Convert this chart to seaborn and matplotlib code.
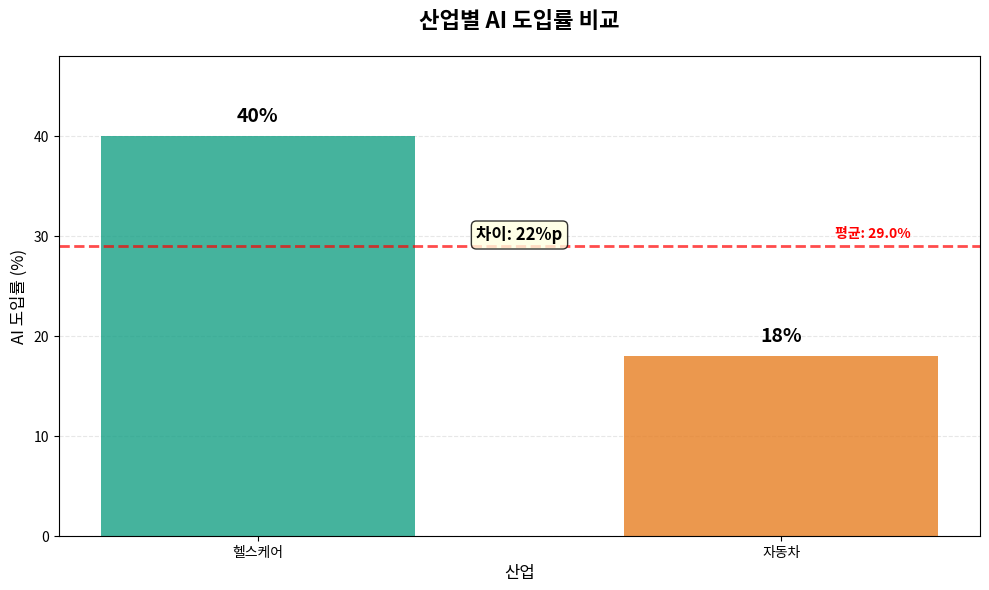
import matplotlib
matplotlib.use("Agg")
import matplotlib.pyplot as plt
import seaborn as sns
import pandas as pd

industries = ["헬스케어", "자동차"]
adoption = [40, 18]
colors = ["#16a085", "#e67e22"]

plt.rcParams['font.family'] = ['Noto Sans CJK KR', 'DejaVu Sans']
plt.rcParams['axes.unicode_minus'] = False

df = pd.DataFrame({"산업": industries, "도입률": adoption})

fig, ax = plt.subplots(figsize=(9.89, 5.90), dpi=100)
sns.barplot(data=df, x="산업", y="도입률", hue="산업", palette=colors,
            width=0.6, alpha=0.8, legend=False, ax=ax, saturation=1,
            edgecolor="none", linewidth=0)

ax.set_xlim(-0.38, 1.38)
ax.set_ylim(0, max(adoption) * 1.2)

for i, v in enumerate(adoption):
    ax.text(i, v + 1, f"{v}%", ha="center", va="bottom", fontsize=14,
            fontweight="bold", color="black")

avg = sum(adoption) / len(adoption)
ax.axhline(avg, color="red", linestyle="--", linewidth=2, alpha=0.7)
ax.text(1.175, avg + 0.5, f"평균: {avg:.1f}%", ha="center", va="bottom",
        color="red", fontsize=10, fontweight="bold")

diff = adoption[0] - adoption[1]
ax.text(0.5, avg + 1.1, f"차이: {diff}%p", ha="center", va="center", fontsize=12,
        fontweight="bold", color="black",
        bbox=dict(boxstyle="round,pad=0.3", facecolor="lightyellow", edgecolor="black", alpha=0.8))

ax.yaxis.grid(True, linestyle="--", alpha=0.3)
ax.set_axisbelow(True)
ax.tick_params(axis="both", labelsize=10, colors="black")
ax.set_xlabel("산업", fontsize=12)
ax.set_ylabel("AI 도입률 (%)", fontsize=12)
ax.set_title("산업별 AI 도입률 비교", fontsize=16, fontweight="bold", pad=20)

fig.subplots_adjust(left=59/989, right=980/989, top=1-56/590, bottom=1-536/590)
fig.savefig("out.png", dpi=100)
